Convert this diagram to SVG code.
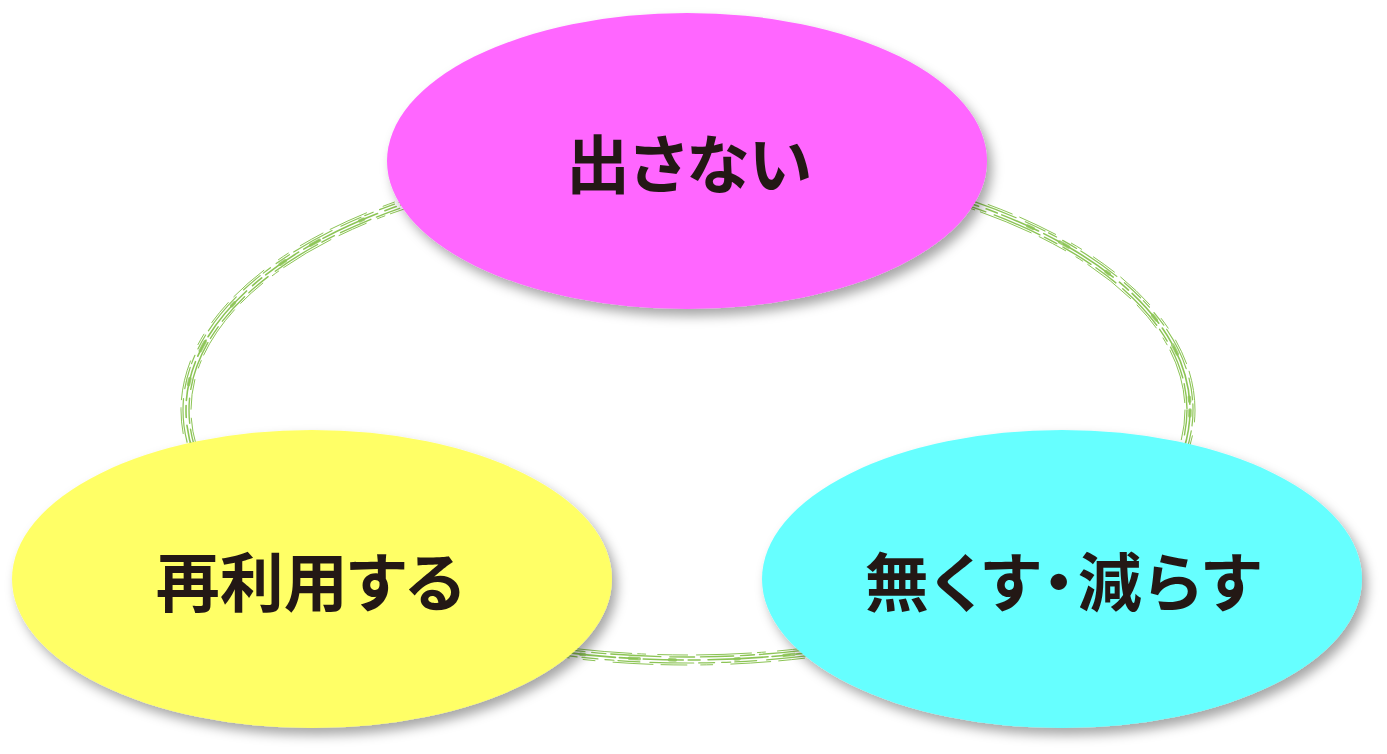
<svg xmlns="http://www.w3.org/2000/svg" width="1387" height="754" viewBox="0 0 1387 754">
<style>
.ring{fill:none;stroke:#8cc455;stroke-linecap:round}
.lbl{font-family:"Noto Sans CJK JP","Noto Sans CJK SC",sans-serif;font-weight:bold;font-size:64px;fill:#231815;text-anchor:middle;font-feature-settings:"palt"}
</style>
<defs>
<filter id="sh" x="-10%" y="-10%" width="125%" height="130%">
<feDropShadow dx="5" dy="7" stdDeviation="6" flood-color="#000" flood-opacity="0.35"/>
</filter>
</defs>
<g id="connectors">
<ellipse class="ring" cx="688" cy="410" rx="502" ry="250" stroke-width="1.6" stroke-dasharray="40 6 18 4 60 8 12 5"/>
<ellipse class="ring" cx="688" cy="410" rx="499" ry="247" stroke-width="1.4" stroke-dasharray="25 9 50 5 14 7 33 6"/>
<ellipse class="ring" cx="688" cy="410" rx="505" ry="253" stroke-width="1.2" stroke-dasharray="16 5 44 10 22 4 9 7"/>
<ellipse class="ring" cx="688" cy="410" rx="497" ry="245" stroke-width="1" stroke-dasharray="30 12 8 6 55 9"/>
<ellipse class="ring" cx="688" cy="410" rx="507" ry="255" stroke-width="1" stroke-dasharray="12 14 26 8 40 18"/>
<ellipse class="ring" cx="688" cy="410" rx="502" ry="250" stroke-width="3.5" stroke-dasharray="6 30 10 45 4 60" opacity="0.8"/>
</g>
<g id="node-top">
<ellipse cx="687" cy="161" rx="300" ry="148" fill="#ff66ff" filter="url(#sh)"/>
<text class="lbl" x="689" y="188">出さない</text>
</g>
<g id="node-left">
<ellipse cx="312" cy="579" rx="300" ry="149" fill="#ffff66" filter="url(#sh)"/>
<text class="lbl" x="310" y="606">再利用する</text>
</g>
<g id="node-right">
<ellipse cx="1062" cy="579" rx="300" ry="149" fill="#66ffff" filter="url(#sh)"/>
<text class="lbl" x="1064" y="606" letter-spacing="3">無くす・減らす</text>
</g>
</svg>
